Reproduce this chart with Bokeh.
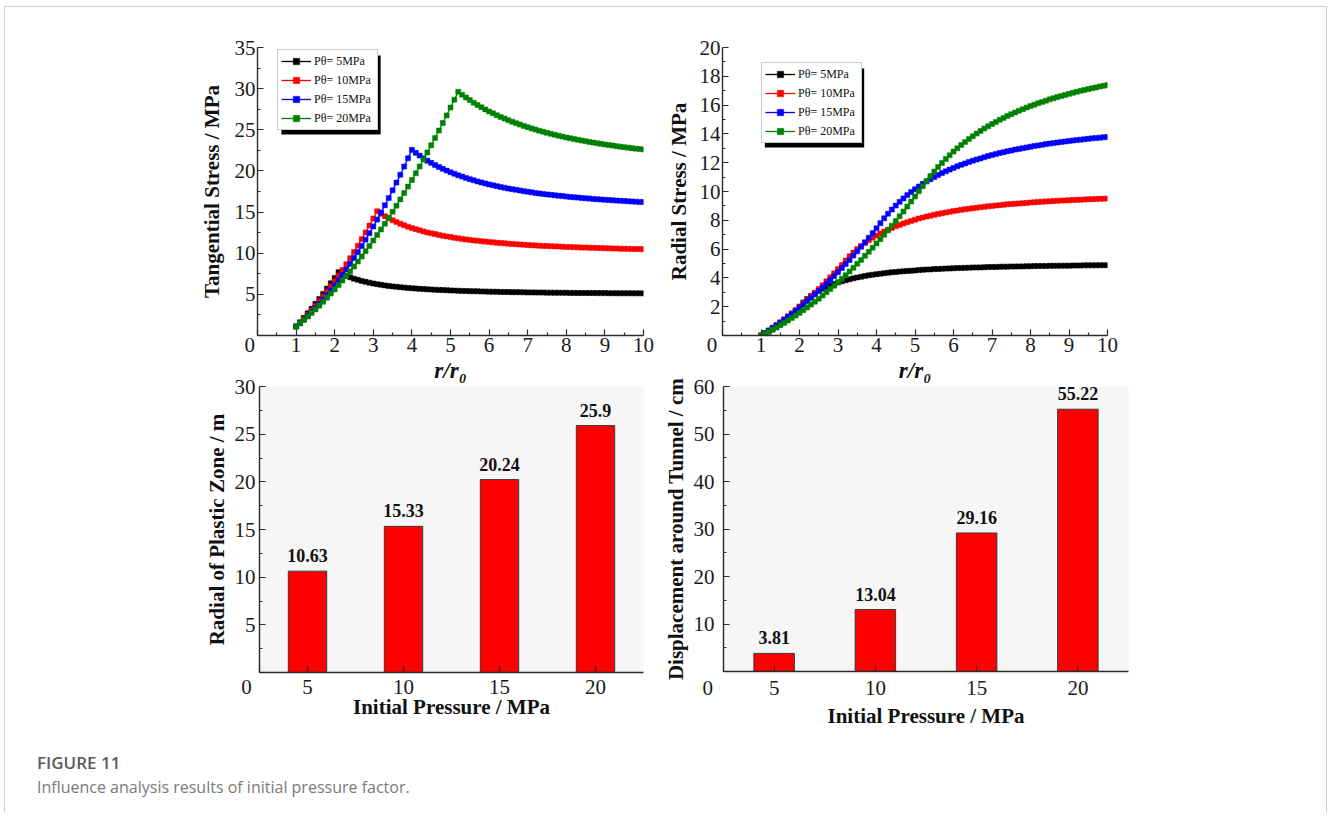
from bokeh.plotting import figure
from bokeh.models import (FixedTicker, Legend, LegendItem, BoxAnnotation,
                          LabelSet, ColumnDataSource, Range1d, Div)
from bokeh.layouts import row, column
from bokeh.core.properties import value
from bokeh.embed import file_html
from bokeh.resources import INLINE

# ---------------- data ----------------
R = [1.0, 1.1, 1.2, 1.3, 1.4, 1.5, 1.6, 1.7, 1.8, 1.9,
     2.0, 2.1, 2.2, 2.3, 2.4, 2.5, 2.6, 2.7, 2.8, 2.9,
     3.0, 3.1, 3.2, 3.3, 3.4, 3.5, 3.6, 3.7, 3.8, 3.9,
     4.0, 4.1, 4.2, 4.3, 4.4, 4.5, 4.6, 4.7, 4.8, 4.9,
     5.0, 5.1, 5.2, 5.3, 5.4, 5.5, 5.6, 5.7, 5.8, 5.9,
     6.0, 6.1, 6.2, 6.3, 6.4, 6.5, 6.6, 6.7, 6.8, 6.9,
     7.0, 7.1, 7.2, 7.3, 7.4, 7.5, 7.6, 7.7, 7.8, 7.9,
     8.0, 8.1, 8.2, 8.3, 8.4, 8.5, 8.6, 8.7, 8.8, 8.9,
     9.0, 9.1, 9.2, 9.3, 9.4, 9.5, 9.6, 9.7, 9.8, 9.9, 10.0]

LEGEND_LABELS = ["P\u03b8= 5MPa", "P\u03b8= 10MPa", "P\u03b8= 15MPa", "P\u03b8= 20MPa"]
COLORS = ["#000000", "#ff0000", "#0000ff", "#008000"]

# tangential stress (MPa)
TAN_5 = [1.10, 1.60, 2.15, 2.70, 3.25, 3.85, 4.45, 5.05, 5.70, 6.35, 7.00, 7.70,
         7.46, 7.25, 7.07, 6.90, 6.76, 6.63, 6.52, 6.42, 6.32, 6.24,
         6.16, 6.09, 6.03, 5.97, 5.92, 5.87, 5.82, 5.78, 5.74, 5.71,
         5.67, 5.64, 5.61, 5.59, 5.56, 5.54, 5.52, 5.50, 5.48, 5.46,
         5.44, 5.42, 5.41, 5.39, 5.38, 5.37, 5.35, 5.34, 5.33, 5.32,
         5.31, 5.30, 5.29, 5.28, 5.27, 5.27, 5.26, 5.25, 5.24, 5.24,
         5.23, 5.22, 5.22, 5.21, 5.21, 5.20, 5.20, 5.19, 5.19, 5.18,
         5.18, 5.17, 5.17, 5.16, 5.16, 5.16, 5.15, 5.15, 5.15, 5.14,
         5.14, 5.14, 5.13, 5.13, 5.13, 5.13, 5.12, 5.12, 5.12]
TAN_10 = [1.10, 1.55, 2.03, 2.53, 3.05, 3.59, 4.15, 4.73, 5.33, 5.96, 6.60,
          7.27, 7.95, 8.66, 9.39, 10.15, 10.92, 11.71, 12.53, 13.36, 14.22, 15.10,
          14.79, 14.50, 14.24, 14.00, 13.78, 13.58, 13.39, 13.22, 13.06, 12.92,
          12.78, 12.65, 12.53, 12.42, 12.32, 12.22, 12.13, 12.04, 11.96, 11.88,
          11.81, 11.74, 11.68, 11.62, 11.56, 11.51, 11.46, 11.41, 11.36, 11.32,
          11.27, 11.23, 11.20, 11.16, 11.13, 11.09, 11.06, 11.03, 11.00, 10.97,
          10.95, 10.92, 10.89, 10.87, 10.85, 10.83, 10.81, 10.79, 10.77, 10.75,
          10.73, 10.71, 10.69, 10.68, 10.66, 10.65, 10.63, 10.62, 10.61, 10.59,
          10.58, 10.57, 10.55, 10.54, 10.53, 10.52, 10.51, 10.50, 10.49]
TAN_15 = [1.10, 1.50, 1.93, 2.37, 2.84, 3.33, 3.84, 4.37, 4.93, 5.50, 6.10,
          6.72, 7.36, 8.02, 8.70, 9.41, 10.13, 10.88, 11.65, 12.44, 13.25,
          14.09, 14.94, 15.82, 16.72, 17.64, 18.58, 19.54, 20.53, 21.54, 22.56,
          22.20, 21.86, 21.54, 21.25, 20.98, 20.72, 20.48, 20.25, 20.04, 19.84,
          19.65, 19.47, 19.31, 19.15, 19.00, 18.86, 18.72, 18.60, 18.48, 18.36,
          18.25, 18.15, 18.05, 17.95, 17.86, 17.78, 17.70, 17.62, 17.54, 17.47,
          17.40, 17.33, 17.27, 17.21, 17.15, 17.09, 17.04, 16.99, 16.94, 16.89,
          16.84, 16.80, 16.76, 16.71, 16.67, 16.64, 16.60, 16.56, 16.53, 16.49,
          16.46, 16.43, 16.40, 16.37, 16.34, 16.31, 16.29, 16.26, 16.23, 16.21]
TAN_20 = [1.10, 1.49, 1.89, 2.30, 2.73, 3.17, 3.63, 4.10, 4.59, 5.09, 5.60,
          6.13, 6.67, 7.23, 7.80, 8.39, 8.99, 9.60, 10.23, 10.88, 11.53,
          12.21, 12.89, 13.59, 14.31, 15.04, 15.78, 16.54, 17.31, 18.10, 18.90,
          19.71, 20.54, 21.39, 22.25, 23.12, 24.01, 24.91, 25.82, 26.75, 27.70,
          28.66, 29.63,
          29.27, 28.93, 28.61, 28.30, 28.02, 27.74, 27.48, 27.23,
          27.00, 26.77, 26.56, 26.36, 26.16, 25.98, 25.80, 25.63, 25.47, 25.31,
          25.17, 25.02, 24.89, 24.75, 24.63, 24.51, 24.39, 24.28, 24.17, 24.07,
          23.97, 23.87, 23.78, 23.69, 23.60, 23.52, 23.44, 23.36, 23.29, 23.22,
          23.15, 23.08, 23.01, 22.95, 22.89, 22.83, 22.77, 22.71, 22.66, 22.60]

# radial stress (MPa)
RAD_5 = [0.00, 0.12, 0.26, 0.41, 0.58, 0.78, 0.98, 1.21, 1.46, 1.72, 2.00, 2.30,
         2.54, 2.75, 2.93, 3.10, 3.24, 3.37, 3.48, 3.58, 3.68, 3.76,
         3.84, 3.91, 3.97, 4.03, 4.08, 4.13, 4.18, 4.22, 4.26, 4.29,
         4.33, 4.36, 4.39, 4.41, 4.44, 4.46, 4.48, 4.50, 4.52, 4.54,
         4.56, 4.58, 4.59, 4.61, 4.62, 4.63, 4.65, 4.66, 4.67, 4.68,
         4.69, 4.70, 4.71, 4.72, 4.73, 4.73, 4.74, 4.75, 4.76, 4.76,
         4.77, 4.78, 4.78, 4.79, 4.79, 4.80, 4.80, 4.81, 4.81, 4.82,
         4.82, 4.83, 4.83, 4.84, 4.84, 4.84, 4.85, 4.85, 4.85, 4.86,
         4.86, 4.86, 4.87, 4.87, 4.87, 4.87, 4.88, 4.88, 4.88]
RAD_10 = [0.00, 0.17, 0.35, 0.54, 0.73, 0.92, 1.13, 1.34, 1.55, 1.77, 2.00,
          2.23, 2.47, 2.72, 2.97, 3.23, 3.49, 3.76, 4.04, 4.32, 4.61, 4.90,
          5.21, 5.50, 5.76, 6.00, 6.22, 6.42, 6.61, 6.78, 6.94, 7.08,
          7.22, 7.35, 7.47, 7.58, 7.68, 7.78, 7.87, 7.96, 8.04, 8.12,
          8.19, 8.26, 8.32, 8.38, 8.44, 8.49, 8.54, 8.59, 8.64, 8.68,
          8.73, 8.77, 8.80, 8.84, 8.87, 8.91, 8.94, 8.97, 9.00, 9.03,
          9.05, 9.08, 9.11, 9.13, 9.15, 9.17, 9.19, 9.21, 9.23, 9.25,
          9.27, 9.29, 9.31, 9.32, 9.34, 9.35, 9.37, 9.38, 9.39, 9.41,
          9.42, 9.43, 9.45, 9.46, 9.47, 9.48, 9.49, 9.50, 9.51]
RAD_15 = [0.00, 0.17, 0.34, 0.52, 0.70, 0.89, 1.09, 1.29, 1.49, 1.70, 1.92,
          2.14, 2.37, 2.61, 2.85, 3.09, 3.34, 3.60, 3.86, 4.13, 4.40,
          4.68, 4.96, 5.25, 5.55, 5.85, 6.16, 6.47, 6.79, 7.11, 7.44,
          7.80, 8.14, 8.46, 8.75, 9.02, 9.28, 9.52, 9.75, 9.96, 10.16,
          10.35, 10.53, 10.69, 10.85, 11.00, 11.14, 11.28, 11.40, 11.52, 11.64,
          11.75, 11.85, 11.95, 12.05, 12.14, 12.22, 12.30, 12.38, 12.46, 12.53,
          12.60, 12.67, 12.73, 12.79, 12.85, 12.91, 12.96, 13.01, 13.06, 13.11,
          13.16, 13.20, 13.24, 13.29, 13.33, 13.36, 13.40, 13.44, 13.47, 13.51,
          13.54, 13.57, 13.60, 13.63, 13.66, 13.69, 13.71, 13.74, 13.77, 13.79]
RAD_20 = [0.00, 0.13, 0.27, 0.41, 0.56, 0.71, 0.87, 1.04, 1.21, 1.39, 1.57,
          1.76, 1.95, 2.15, 2.35, 2.56, 2.78, 3.00, 3.23, 3.46, 3.70,
          3.94, 4.19, 4.45, 4.71, 4.98, 5.25, 5.53, 5.81, 6.10, 6.39,
          6.69, 7.00, 7.31, 7.63, 7.95, 8.28, 8.61, 8.95, 9.30, 9.65,
          10.01, 10.37,
          10.73, 11.07, 11.39, 11.70, 11.98, 12.26, 12.52, 12.77,
          13.00, 13.23, 13.44, 13.64, 13.84, 14.02, 14.20, 14.37, 14.53, 14.69,
          14.83, 14.98, 15.11, 15.25, 15.37, 15.49, 15.61, 15.72, 15.83, 15.93,
          16.03, 16.13, 16.22, 16.31, 16.40, 16.48, 16.56, 16.64, 16.71, 16.78,
          16.85, 16.92, 16.99, 17.05, 17.11, 17.17, 17.23, 17.29, 17.34, 17.40]

PRESSURE = [5, 10, 15, 20]
PLASTIC_RADIUS = [10.63, 15.33, 20.24, 25.9]
DISPLACEMENT = [3.81, 13.04, 29.16, 55.22]

for s in (TAN_5, TAN_10, TAN_15, TAN_20, RAD_5, RAD_10, RAD_15, RAD_20):
    assert len(s) == len(R), len(s)

# ---------------- styling helpers ----------------
SERIF = "Liberation Serif"
AXC = "#2b2b2b"
NB = "\u00a0"


def style_axes(p, xlabel, ylabel, x_lab_std, x_title_std, y_lab_std, y_title_std,
               xlabel_style="bold", xlabel_size="21px"):
    p.xgrid.visible = False
    p.ygrid.visible = False
    for ax in (p.xaxis[0], p.yaxis[0]):
        ax.axis_line_color = AXC
        ax.axis_line_width = 1.4
        ax.major_tick_line_color = AXC
        ax.minor_tick_line_color = AXC
        ax.major_tick_line_width = 1.2
        ax.minor_tick_line_width = 1.2
        ax.major_tick_in = 6
        ax.major_tick_out = 0
        ax.minor_tick_in = 3
        ax.minor_tick_out = 0
        ax.major_label_text_font = SERIF
        ax.major_label_text_font_size = "21px"
        ax.major_label_text_color = "#1a1a1a"
        ax.axis_label_text_font = SERIF
        ax.axis_label_text_font_size = "21px"
        ax.axis_label_text_color = "#111111"
    p.xaxis[0].axis_label = xlabel
    p.yaxis[0].axis_label = ylabel
    p.xaxis[0].axis_label_text_font_style = xlabel_style
    p.xaxis[0].axis_label_text_font_size = xlabel_size
    p.yaxis[0].axis_label_text_font_style = "bold"
    p.xaxis[0].major_label_standoff = x_lab_std
    p.xaxis[0].axis_label_standoff = x_title_std
    p.yaxis[0].major_label_standoff = y_lab_std
    p.yaxis[0].axis_label_standoff = y_title_std


def line_fig(series, ymax, yticks, yminor, legend_xy, shadow, borders, zero_text):
    bl, br, bt, bb, fw, fh = borders
    p = figure(frame_width=fw, frame_height=fh,
               x_range=Range1d(0, 10), y_range=Range1d(0, ymax),
               min_border_left=bl, min_border_right=br,
               min_border_top=bt, min_border_bottom=bb,
               output_backend="svg", toolbar_location=None,
               border_fill_color=None, outline_line_color=None,
               background_fill_color="white")
    p.xaxis[0].ticker = FixedTicker(ticks=[0, 1, 2, 3, 4, 5, 6, 7, 8, 9, 10],
                                    minor_ticks=[0.5, 1.5, 2.5, 3.5, 4.5, 5.5,
                                                 6.5, 7.5, 8.5, 9.5])
    p.xaxis[0].major_label_overrides = {0: zero_text}
    p.yaxis[0].ticker = FixedTicker(ticks=yticks, minor_ticks=yminor)
    items = []
    for ys, col, lab in zip(series, COLORS, LEGEND_LABELS):
        src = ColumnDataSource(dict(r=R, s=ys))
        lr = p.line("r", "s", source=src, line_color=col, line_width=1.3)
        sr = p.scatter("r", "s", source=src, marker="square", size=5,
                       fill_color=col, line_color=col, line_width=0.5)
        items.append(LegendItem(label=value(lab), renderers=[lr, sr]))
    x0, x1, y0, y1 = shadow
    p.add_layout(BoxAnnotation(left=x0, right=x1, bottom=y0, top=y1,
                               fill_color="black", fill_alpha=1.0,
                               line_color=None))
    leg = Legend(items=items, location=legend_xy,
                 border_line_color="#9a9a9a", border_line_width=1,
                 background_fill_color="white", background_fill_alpha=1.0,
                 label_text_font=SERIF, label_text_font_size="12px",
                 label_text_color="#111111",
                 glyph_width=30, glyph_height=16, label_height=16,
                 label_width=60, label_standoff=3, spacing=3, padding=3,
                 margin=0)
    p.add_layout(leg, "center")
    return p


# ---------------- top row ----------------
f1 = line_fig([TAN_5, TAN_10, TAN_15, TAN_20], 35,
              [5, 10, 15, 20, 25, 30, 35],
              [2.5, 7.5, 12.5, 17.5, 22.5, 27.5, 32.5],
              (20, 205), (0.62, 3.19, 24.43, 34.03),
              (252, 15, 40, 60, 386, 288), "0" + NB * 3)
style_axes(f1, "r/r\u2080", "Tangential Stress / MPa", -3, -2, 2, 8,
           xlabel_style="bold italic", xlabel_size="23px")

f2 = line_fig([RAD_5, RAD_10, RAD_15, RAD_20], 20,
              [2, 4, 6, 8, 10, 12, 14, 16, 18, 20],
              [1, 3, 5, 7, 9, 11, 13, 15, 17, 19],
              (39, 192), (1.10, 3.68, 13.06, 18.54),
              (64, 219, 40, 60, 385, 288), "0" + NB * 4)
style_axes(f2, "r/r\u2080", "Radial Stress / MPa", -3, -2, 2, 6,
           xlabel_style="bold italic", xlabel_size="23px")


# ---------------- bottom row ----------------
def bar_fig(vals, ymax, yticks, yminor, ylabel, borders, xl_std, xt_std, yl_std,
            yt_std, zero_text):
    bl, br, bt, bb, fw, fh = borders
    p = figure(frame_width=fw, frame_height=fh,
               x_range=Range1d(2.5, 22.5), y_range=Range1d(0, ymax),
               min_border_left=bl, min_border_right=br,
               min_border_top=bt, min_border_bottom=bb,
               output_backend="svg", toolbar_location=None,
               border_fill_color=None, outline_line_color=None,
               background_fill_color="#f6f6f6")
    src = ColumnDataSource(dict(x=PRESSURE, top=vals, txt=[str(v) for v in vals]))
    p.vbar(x="x", top="top", width=2, source=src, fill_color="#ff0000",
           line_color="#3a3a3a", line_width=1)
    p.add_layout(LabelSet(x="x", y="top", text="txt", source=src,
                          text_align="center", text_baseline="alphabetic",
                          y_offset=9, text_font=value(SERIF),
                          text_font_size=value("18px"), text_font_style="bold",
                          text_color="#111111"))
    p.xaxis[0].ticker = FixedTicker(ticks=[2.5] + PRESSURE)
    p.xaxis[0].major_label_overrides = {2.5: zero_text}
    p.yaxis[0].ticker = FixedTicker(ticks=yticks, minor_ticks=yminor)
    style_axes(p, "Initial Pressure / MPa", ylabel, xl_std, xt_std, yl_std, yt_std)
    return p


f3 = bar_fig(PLASTIC_RADIUS, 30, [5, 10, 15, 20, 25, 30],
             [2.5, 7.5, 12.5, 17.5, 22.5, 27.5],
             "Radial of Plastic Zone / m", (254, 12, 24, 71, 384, 286),
             2, -7, 4, 3, "0" + NB * 5)
f4 = bar_fig(DISPLACEMENT, 60, [10, 20, 30, 40, 50, 60],
             [5, 15, 25, 35, 45, 55],
             "Displacement around Tunnel / cm", (68, 198, 27, 69, 405, 285),
             4, 1, 9, 3, "0" + NB * 6)

caption = Div(text=(
    '<div style="padding-top:10px;padding-left:32px;font-family:\'Open Sans\',sans-serif;">'
    '<div style="font-size:17px;line-height:25px;font-weight:600;color:#5a5a5a;">FIGURE 11</div>'
    '<div style="font-size:16px;line-height:25px;font-weight:400;color:#7a7a7a;">'
    'Influence analysis results of initial pressure factor.</div></div>'),
    width=1321, height=72, margin=(0, 0, 0, 0))

row1 = row(f1, f2)
row2 = row(f3, f4, margin=(-36, 0, 0, 0))
layout = column(row1, row2, caption, margin=(6, 0, 0, 4),
                styles={"border-top": "1px solid #cfcfcf",
                        "border-left": "1px solid #cfcfcf",
                        "border-right": "1px solid #cfcfcf"})

open("out.html", "w").write(file_html(layout, INLINE))
